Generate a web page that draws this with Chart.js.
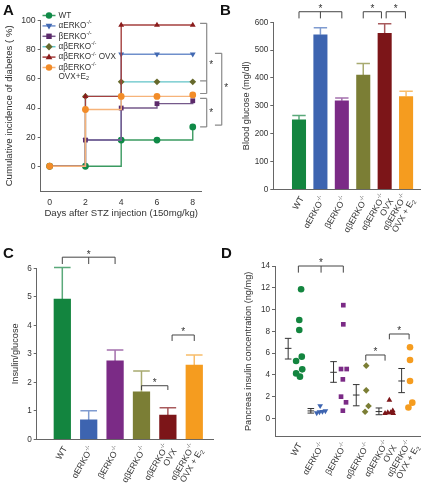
<!DOCTYPE html>
<html><head><meta charset="utf-8">
<script src="https://cdn.jsdelivr.net/npm/chart.js@4/dist/chart.umd.min.js"></script>
<style>
html,body{margin:0;padding:0;background:#fff;}
body{width:433px;height:491px;position:relative;overflow:hidden;font-family:"Liberation Sans",Arial,sans-serif;}
canvas{position:absolute;}
.lab{position:absolute;font:bold 15px "Liberation Sans",Arial,sans-serif;color:#111;line-height:15px;}
</style></head><body>
<canvas id="cA" width="235" height="235" style="left:0;top:0"></canvas>
<canvas id="cB" width="218" height="240" style="left:215px;top:0"></canvas>
<canvas id="cC" width="218" height="251" style="left:0;top:240px"></canvas>
<canvas id="cD" width="218" height="251" style="left:215px;top:240px"></canvas>
<div class="lab" style="left:3px;top:2px">A</div>
<div class="lab" style="left:220px;top:2px">B</div>
<div class="lab" style="left:3px;top:245px">C</div>
<div class="lab" style="left:221px;top:245px">D</div>
<script>
// ---------------- DATA ----------------
const days = [0, 2, 4, 6, 8];
const dayTicks = [0, 2, 4, 6, 8];
const incTicks = [0, 20, 40, 60, 80, 100];
const legendLabels = [['WT'], ['αERKO-/-'], ['βERKO-/-'], ['αβERKO-/-'], ['αβERKO-/- OVX'], ['αβERKO-/-', 'OVX+E2']];
const incWT   = [0, 0, 18, 18, 27];
const incA    = [0, 18, 77, 77, 77];
const incB    = [0, 18, 40, 43, 45];
const incAB   = [0, 48, 58, 58, 58];
const incOVX  = [0, 48, 97, 97, 97];
const incE2   = [0, 39, 48, 48, 49];

const groupLabels = [['WT'], ['αERKO-/-'], ['βERKO-/-'], ['αβERKO-/-'], ['αβERKO-/-', 'OVX'], ['αβERKO-/-', 'OVX + E2']];
const glucoseTicks = [0, 100, 200, 300, 400, 500, 600];
const glucoseMean  = [250, 555, 318, 410, 560, 333];
const glucoseTop   = [265, 580, 328, 452, 595, 352];

const ratioTicks = [0, 1, 2, 3, 4, 5, 6];
const ratioMean  = [4.92, 0.68, 2.75, 1.67, 0.85, 2.60];
const ratioTop   = [6.03, 1.00, 3.13, 2.40, 1.11, 2.96];

const pancTicks = [0, 2, 4, 6, 8, 10, 12, 14];
const pancWT  = [11.86, 9.04, 8.12, 5.67, 5.27, 4.50, 4.13, 3.83];
const jitWT   = [0.31, 0.23, 0.23, 0.34, 0.09, 0.36, 0.09, 0.26];
const pancA   = [1.15, 0.50, 0.58, 0.62, 0.68];
const jitA    = [0.15, 0.00, 0.12, 0.25, 0.38];
const pancB   = [10.40, 8.64, 4.53, 4.53, 3.58, 1.99, 1.47, 0.70];
const jitB    = [0.17, 0.17, 0.07, 0.32, 0.15, 0.07, 0.29, 0.15];
const pancAB  = [4.84, 2.57, 1.13, 0.60];
const jitAB   = [0.18, 0.18, 0.28, 0.13];
const pancOVX = [1.68, 0.46, 0.52, 0.52, 0.70, 0.46];
const jitOVX  = [0.20, 0.01, 0.13, 0.26, 0.35, 0.37];
const pancE2  = [6.53, 5.36, 3.43, 1.44, 1.00];
const jitE2   = [0.11, 0.11, 0.11, 0.21, 0.04];
const pancMean = [6.43, 0.68, 4.23, 2.14, 0.62, 3.43];
const pancLow  = [5.45, 0.48, 3.31, 1.15, 0.33, 2.36];
const pancHigh = [7.35, 0.90, 5.21, 3.10, 0.95, 4.58];

// significance brackets (category / value coordinates)
const aBrackets = [
  {x0: 8.41, x1: 8.78, ys: [98.2, 58.7, 50], star: [9.03, 71]},
  {x0: 8.41, x1: 8.78, ys: [46.6, 27], star: [9.03, 38]},
  {x0: 9.24, x1: 9.62, ys: [77.6, 28.2], star: [9.87, 55]}
];
const bBrackets = [
  {x0: 0, x1: 2, mid: 1, y: 638, tick: 614, star: 656},
  {x0: 3, x1: 3.85, y: 638, tick: 614, star: 656},
  {x0: 4.07, x1: 4.97, y: 638, tick: 614, star: 656}
];
const cBrackets = [
  {x0: 0, x1: 2, mid: 1, y: 6.39, tick: 6.15, star: 6.55},
  {x0: 3, x1: 4, y: 1.88, tick: 1.73, star: 2.04},
  {x0: 4.16, x1: 5, y: 3.66, tick: 3.45, star: 3.84}
];
const dBrackets = [
  {x0: 0.19, x1: 2.17, mid: 1.19, y: 14, tick: 13.39, star: 14.5},
  {x0: 3.16, x1: 4.01, y: 5.82, tick: 5.3, star: 6.28},
  {x0: 4.2, x1: 5.07, y: 7.75, tick: 7.26, star: 8.2}
];

// ---------------- STYLE ----------------
const FONT = '"Liberation Sans", Arial, Helvetica, sans-serif';
Chart.defaults.font.family = FONT;
Chart.defaults.color = '#333';
const barColors  = ['#13853f', '#3d64b0', '#7b2b86', '#7b7e35', '#7c1518', '#f59c1f'];
const capColors  = ['#5aa97a', '#7f9bd0', '#a470ad', '#a8aa70', '#a85a5c', '#f8bd6a'];
const lineColors = ['#3a9a60', '#6f8fcb', '#75598a', '#62c4c8', '#a5403f', '#f6b37a'];
const markColors = ['#0f8a47', '#4269b2', '#5c2a6b', '#66692c', '#8b1c1c', '#f28c28'];
const markStyles = ['circle', 'triangle', 'rect', 'rectRot', 'triangle', 'circle'];
const markRot    = [0, 180, 0, 0, 0, 0];
const AXIS = '#666';

function fontStr(size, bold) { return (bold ? 'bold ' : '') + size + 'px ' + FONT; }
function parseRich(s) {
  const out = [];
  s.split(/(-\/-|E2)/).forEach(p => {
    if (!p) return;
    if (p === '-/-') out.push({t: '-/-', m: 'sup'});
    else if (p === 'E2') { out.push({t: 'E', m: 'n'}); out.push({t: '2', m: 'sub'}); }
    else out.push({t: p, m: 'n'});
  });
  return out;
}
function drawRich(ctx, str, x, y, size, align) {
  const segs = parseRich(str);
  let w = 0;
  segs.forEach(s => { ctx.font = fontStr(s.m === 'n' ? size : size * 0.68); w += ctx.measureText(s.t).width; });
  let cx = align === 'right' ? x - w : x;
  ctx.textAlign = 'left'; ctx.textBaseline = 'middle';
  segs.forEach(s => {
    const fs = s.m === 'n' ? size : size * 0.68;
    ctx.font = fontStr(fs);
    const dy = s.m === 'sup' ? -size * 0.38 : (s.m === 'sub' ? size * 0.3 : 0);
    ctx.fillText(s.t, cx, y + dy);
    cx += ctx.measureText(s.t).width;
  });
}
function drawMarker(ctx, style, rot, x, y, r, color) {
  ctx.save(); ctx.fillStyle = color; ctx.translate(x, y); ctx.rotate(rot * Math.PI / 180);
  ctx.beginPath();
  if (style === 'circle') ctx.arc(0, 0, r, 0, Math.PI * 2);
  else if (style === 'rect') ctx.rect(-r * 0.85, -r * 0.85, r * 1.7, r * 1.7);
  else if (style === 'rectRot') { ctx.moveTo(0, -r * 1.15); ctx.lineTo(r * 1.15, 0); ctx.lineTo(0, r * 1.15); ctx.lineTo(-r * 1.15, 0); ctx.closePath(); }
  else if (style === 'triangle') { ctx.moveTo(0, -r * 1.1); ctx.lineTo(r * 1.05, r * 0.7); ctx.lineTo(-r * 1.05, r * 0.7); ctx.closePath(); }
  ctx.fill(); ctx.restore();
}
function fixW(w) { return s => { s.width = w; }; }
function fixH(h) { return s => { s.height = h; }; }
function setTicks(vals) { return s => { s.ticks = vals.map(v => ({value: v})); }; }
function drawStar(ctx, x, y, size) {
  ctx.font = fontStr(size); ctx.textAlign = 'center'; ctx.textBaseline = 'middle';
  ctx.fillText('*', x, y + size * 0.22);
}

// generic bracket + rotated labels plugin
function annotPlugin(id, brackets, opts) {
  return {
    id: id,
    afterDraw(chart) {
      const ctx = chart.ctx, xs = chart.scales.x, ys = chart.scales.y;
      ctx.save();
      ctx.strokeStyle = '#444'; ctx.fillStyle = '#333'; ctx.lineWidth = 1;
      brackets.forEach(b => {
        const x0 = xs.getPixelForValue(b.x0), x1 = xs.getPixelForValue(b.x1);
        const y = ys.getPixelForValue(b.y), yt = ys.getPixelForValue(b.tick);
        ctx.beginPath();
        ctx.moveTo(x0, yt); ctx.lineTo(x0, y); ctx.lineTo(x1, y); ctx.lineTo(x1, yt);
        if (b.mid !== undefined) { const xm = xs.getPixelForValue(b.mid); ctx.moveTo(xm, y); ctx.lineTo(xm, yt); }
        ctx.stroke();
        const sx = b.mid !== undefined ? xs.getPixelForValue(b.mid) : (x0 + x1) / 2;
        ctx.fillStyle = '#333';
        drawStar(ctx, sx, ys.getPixelForValue(b.star), 10);
      });
      // rotated category labels
      const ang = -60 * Math.PI / 180, lh = 9;
      ctx.fillStyle = '#333';
      groupLabels.forEach((lines, i) => {
        const ax = xs.getPixelForValue(i + opts.labelOff) + opts.dx;
        const ay = chart.chartArea.bottom + opts.dy;
        ctx.save(); ctx.translate(ax, ay); ctx.rotate(ang);
        const n = lines.length;
        lines.forEach((ln, k) => { drawRich(ctx, ln, 0, (k - (n - 1) / 2) * lh, 8.7, 'right'); });
        ctx.restore();
      });
      ctx.restore();
    }
  };
}
function errPlugin(id, means, tops, widthPx) {
  return {
    id: id,
    beforeDatasetsDraw(chart) {
      const ctx = chart.ctx, xs = chart.scales.x, ys = chart.scales.y;
      ctx.save(); ctx.lineWidth = 1.5;
      means.forEach((m, i) => {
        const x = xs.getPixelForValue(i), y0 = ys.getPixelForValue(m), y1 = ys.getPixelForValue(tops[i]);
        ctx.strokeStyle = capColors[i];
        ctx.beginPath(); ctx.moveTo(x, y0); ctx.lineTo(x, y1);
        ctx.moveTo(x - widthPx / 2, y1); ctx.lineTo(x + widthPx / 2, y1); ctx.stroke();
      });
      ctx.restore();
    }
  };
}
function yAxis(min, max, ticks, width, title, titleSize) {
  return {
    min: min, max: max, afterBuildTicks: setTicks(ticks), afterFit: fixW(width),
    grid: {display: true, drawOnChartArea: false, drawTicks: true, tickLength: 3, color: AXIS},
    border: {display: true, color: AXIS, width: 1},
    ticks: {font: {size: 8.2}, color: '#333', padding: 2},
    title: {display: true, text: title, font: {size: titleSize}, color: '#333', padding: {top: 4, bottom: 4}}
  };
}
function xHidden(min, max) {
  return {
    type: 'linear', min: min, max: max, offset: false, afterFit: fixH(5),
    grid: {display: false}, border: {display: true, color: AXIS, width: 1},
    ticks: {display: false}
  };
}
const common = {responsive: false, animation: false, devicePixelRatio: 1,
  plugins: {legend: {display: false}, tooltip: {enabled: false}}};

// ---------------- PANEL A ----------------
const incSeries = [incWT, incA, incB, incAB, incOVX, incE2];
const legendA = {
  id: 'legA',
  afterDraw(chart) {
    const ctx = chart.ctx; ctx.save();
    legendLabels.forEach((lines, i) => {
      const y = 15.5 + i * 10.4;
      ctx.strokeStyle = lineColors[i]; ctx.lineWidth = 1.5;
      ctx.beginPath(); ctx.moveTo(42.5, y); ctx.lineTo(55.5, y); ctx.stroke();
      drawMarker(ctx, markStyles[i], markRot[i], 49, y, 3.2, markColors[i]);
      ctx.fillStyle = '#333';
      lines.forEach((ln, k) => drawRich(ctx, ln, 58.5, y + k * 8.8, 8.2, 'left'));
    });
    // brackets
    const xs = chart.scales.x, ys = chart.scales.y;
    ctx.strokeStyle = '#8a8a8a'; ctx.lineWidth = 1.2; ctx.fillStyle = '#333';
    aBrackets.forEach(b => {
      const x0 = xs.getPixelForValue(b.x0), x1 = xs.getPixelForValue(b.x1);
      const yv = b.ys.map(v => ys.getPixelForValue(v));
      ctx.beginPath();
      ctx.moveTo(x1, Math.min(...yv)); ctx.lineTo(x1, Math.max(...yv));
      yv.forEach(y => { ctx.moveTo(x0, y); ctx.lineTo(x1, y); });
      ctx.stroke();
      drawStar(ctx, xs.getPixelForValue(b.star[0]), ys.getPixelForValue(b.star[1]), 10);
    });
    ctx.restore();
  }
};
new Chart(document.getElementById('cA'), {
  type: 'line',
  data: {datasets: incSeries.map((s, i) => ({
    data: days.map((d, j) => ({x: d, y: s[j]})),
    borderColor: lineColors[i], borderWidth: 1.4, stepped: true, fill: false,
    pointStyle: markStyles[i], rotation: markRot[i], pointRadius: 3.4,
    pointBackgroundColor: markColors[i], pointBorderColor: markColors[i], pointBorderWidth: 0,
    order: 5 - i, clip: false
  }))},
  options: Object.assign({}, common, {
    layout: {padding: {left: 0, top: 20.7, right: 33.3, bottom: 12}},
    scales: {
      x: {type: 'linear', min: -0.5, max: 8.5, afterBuildTicks: setTicks(dayTicks), afterFit: fixH(32),
        grid: {display: true, drawOnChartArea: false, drawTicks: false, color: AXIS},
        border: {display: true, color: AXIS, width: 1},
        ticks: {font: {size: 8.7}, color: '#333', padding: 6},
        title: {display: true, text: 'Days after STZ injection (150mg/kg)', font: {size: 9.6}, color: '#333', padding: {top: 2, bottom: 4}}},
      y: Object.assign(yAxis(-17, 100, incTicks, 40.7, 'Cumulative incidence of diabetes ( %)', 9.6),
        {ticks: {font: {size: 8.7}, color: '#333', padding: 2}})
    }
  }),
  plugins: [legendA]
});

// ---------------- PANEL B ----------------
new Chart(document.getElementById('cB'), {
  type: 'bar',
  data: {datasets: [{
    data: glucoseMean.map((v, i) => ({x: i, y: v})),
    backgroundColor: barColors, barThickness: 13.4, borderWidth: 0
  }]},
  options: Object.assign({}, common, {
    layout: {padding: {left: 22, top: 22.3, right: 13, bottom: 45.7}},
    scales: {
      x: xHidden(-1.2, 5.65),
      y: yAxis(0, 600, glucoseTicks, 36.3, 'Blood glucose (mg/dl)', 9.2)
    }
  }),
  plugins: [errPlugin('errB', glucoseMean, glucoseTop, 13.4), annotPlugin('anB', bBrackets, {labelOff: 0, dx: 3, dy: 8})]
});

// ---------------- PANEL C ----------------
new Chart(document.getElementById('cC'), {
  type: 'bar',
  data: {datasets: [{
    data: ratioMean.map((v, i) => ({x: i, y: v})),
    backgroundColor: barColors, barThickness: 16.6, borderWidth: 0
  }]},
  options: Object.assign({}, common, {
    layout: {padding: {left: 5.6, top: 28.3, right: 5, bottom: 46.7}},
    scales: {
      x: xHidden(-0.97, 5.71),
      y: yAxis(0, 6, ratioTicks, 31.1, 'Insulin/glucose', 9.2)
    }
  }),
  plugins: [errPlugin('errC', ratioMean, ratioTop, 16.6), annotPlugin('anC', cBrackets, {labelOff: 0, dx: 3, dy: 8})]
});

// ---------------- PANEL D ----------------
const pancVals = [pancWT, pancA, pancB, pancAB, pancOVX, pancE2];
const pancJit  = [jitWT, jitA, jitB, jitAB, jitOVX, jitE2];
const errD = {
  id: 'errD',
  afterDatasetsDraw(chart) {
    const ctx = chart.ctx, xs = chart.scales.x, ys = chart.scales.y;
    ctx.save(); ctx.strokeStyle = '#333'; ctx.lineWidth = 1;
    pancMean.forEach((m, i) => {
      const x = xs.getPixelForValue(i - 0.26);
      const yl = ys.getPixelForValue(pancLow[i]), yh = ys.getPixelForValue(pancHigh[i]), ym = ys.getPixelForValue(m);
      ctx.beginPath();
      ctx.moveTo(x, yl); ctx.lineTo(x, yh);
      [yl, yh, ym].forEach(y => { ctx.moveTo(x - 3.3, y); ctx.lineTo(x + 3.3, y); });
      ctx.stroke();
    });
    ctx.restore();
  }
};
new Chart(document.getElementById('cD'), {
  type: 'scatter',
  data: {datasets: pancVals.map((vals, i) => ({
    data: vals.map((v, k) => ({x: i + pancJit[i][k], y: v})),
    pointStyle: markStyles[i], rotation: markRot[i], pointRadius: 3.3,
    pointBackgroundColor: barColors[i], pointBorderColor: barColors[i], pointBorderWidth: 0,
    showLine: false, clip: false
  }))},
  options: Object.assign({}, common, {
    layout: {padding: {left: 23.6, top: 26, right: 13, bottom: 49.3}},
    scales: {
      x: xHidden(-0.84, 5.55),
      y: yAxis(-1.69, 14, pancTicks, 36.4, 'Pancreas insulin concentration (ng/mg)', 9.2)
    }
  }),
  plugins: [errD, annotPlugin('anD', dBrackets, {labelOff: 0, dx: 6, dy: 7})]
});
</script>
</body></html>
